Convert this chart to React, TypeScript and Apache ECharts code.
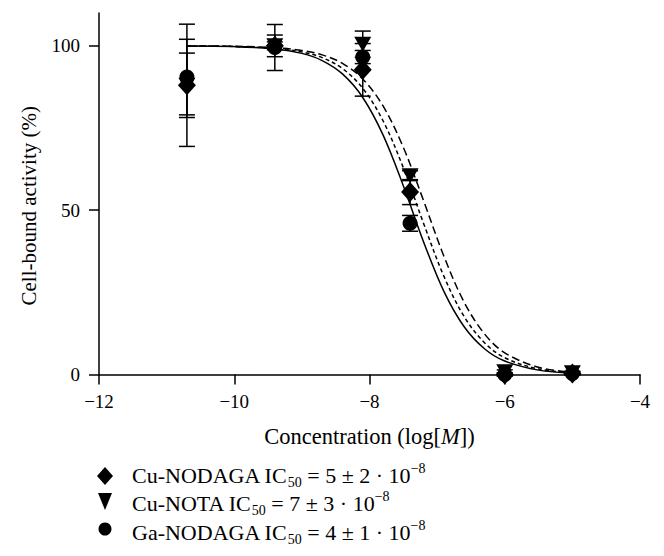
import React, { useEffect, useRef } from "react";
import * as echarts from "echarts";

// Measured points (log concentration, % cell-bound activity, error)
const concentrations = [-10.7, -9.4, -8.1, -7.4, -6.0, -5.0];
const cuNodagaMean = [88, 100, 92.7, 55.5, 0, 0.3];
const cuNodagaErr = [18.6, 3.3, 8, 3.8, 0.5, 0.5];
const cuNotaMean = [88, 100, 100.5, 60.5, 0.8, 0.5];
const cuNotaErr = [9.8, 1.2, 4, 1.5, 0.6, 0.5];
const gaNodagaMean = [90.5, 99.5, 96.6, 46, 0, 0.3];
const gaNodagaErr = [11.5, 7, 2, 2.4, 0.5, 0.5];

// Fitted curves
const fitX = [-10.7, -10, -9.4, -9, -8.7, -8.4, -8.1, -7.8, -7.5, -7.2, -6.9, -6.6, -6.3, -6, -5.5, -5];
const fitGaNodaga = [99.95, 99.77, 99.08, 97.71, 95.53, 91.46, 84.3, 72.91, 57.43, 40.34, 25.31, 14.52, 7.84, 4.09, 1.33, 0.42];
const fitCuNodaga = [99.96, 99.81, 99.26, 98.17, 96.42, 93.1, 87.12, 77.21, 62.94, 45.97, 29.9, 17.61, 9.68, 5.1, 1.67, 0.53];
const fitCuNota = [99.97, 99.86, 99.44, 98.61, 97.26, 94.68, 89.91, 81.71, 69.12, 52.87, 36.0, 21.99, 12.38, 6.61, 2.19, 0.7];

const xTickValues = [-12, -10, -8, -6, -4];
const yTickValues = [0, 50, 100];

const legendLabels = [
  "Cu-NODAGA IC{sub|50} = 5 ± 2 · 10{sup|\u22128}",
  "Cu-NOTA IC{sub|50} = 7 ± 3 · 10{sup|\u22128}",
  "Ga-NODAGA IC{sub|50} = 4 ± 1 · 10{sup|\u22128}",
];

const FONT = "'Liberation Serif', 'Times New Roman', serif";
const INK = "#000";

function pts(xs: number[], ys: number[]) {
  return xs.map((x, i) => [x, ys[i]]);
}
function errPts(xs: number[], ys: number[], es: number[]) {
  return xs.map((x, i) => [x, ys[i], es[i]]);
}

function errorSeries(name: string, data: number[][]) {
  return {
    type: "custom",
    name,
    z: 2,
    clip: false,
    data,
    encode: { x: 0, y: 1 },
    renderItem: (params: any, api: any) => {
      const x = api.value(0);
      const y = api.value(1);
      const e = api.value(2);
      const hi = api.coord([x, y + e]);
      const lo = api.coord([x, y - e]);
      const hw = 8;
      const st = { stroke: INK, lineWidth: 1.5 };
      return {
        type: "group",
        children: [
          { type: "line", shape: { x1: hi[0], y1: hi[1], x2: lo[0], y2: lo[1] }, style: st },
          { type: "line", shape: { x1: hi[0] - hw, y1: hi[1], x2: hi[0] + hw, y2: hi[1] }, style: st },
          { type: "line", shape: { x1: lo[0] - hw, y1: lo[1], x2: lo[0] + hw, y2: lo[1] }, style: st },
        ],
      };
    },
  };
}

function fitSeries(name: string, ys: number[], dash: any) {
  return {
    type: "line",
    name,
    z: 3,
    data: pts(fitX, ys),
    smooth: 0.35,
    symbol: "none",
    lineStyle: { color: INK, width: 1.5, type: dash },
  };
}

export default function App() {
  const ref = useRef<HTMLDivElement>(null);
  useEffect(() => {
    if (!ref.current) return;
    const chart = echarts.init(ref.current, undefined, { renderer: "svg" });
    const rich = {
      sub: { fontFamily: FONT, fontSize: 14, lineHeight: 12, verticalAlign: "bottom", fill: INK, color: INK },
      sup: { fontFamily: FONT, fontSize: 14, lineHeight: 12, verticalAlign: "top", fill: INK, color: INK },
    };
    const legendY = [475, 503.5, 532];
    const option: any = {
      animation: false,
      backgroundColor: "#fff",
      grid: { left: 99, right: 24, top: 13, bottom: 181.5, outerBoundsMode: "none", containLabel: false },
      xAxis: {
        type: "value",
        min: -12,
        max: -4,
        interval: 2,
        name: "Concentration (log[{i|M}])",
        nameLocation: "middle",
        nameGap: 50,
        nameTextStyle: {
          fontFamily: FONT,
          fontSize: 22.5,
          color: INK,
          rich: { i: { fontFamily: FONT, fontSize: 22.5, fontStyle: "italic", color: INK } },
        },
        axisLine: { show: true, onZero: false, lineStyle: { color: INK, width: 1.5 } },
        axisTick: { show: true, inside: false, length: 10, lineStyle: { color: INK, width: 1.5 }, customValues: xTickValues },
        axisLabel: {
          margin: 17,
          fontFamily: FONT,
          fontSize: 19,
          color: INK,
          customValues: xTickValues,
          formatter: (v: number) => (v < 0 ? "\u2212" + Math.abs(v) : String(v)),
        },
        splitLine: { show: false },
      },
      yAxis: {
        type: "value",
        min: 0,
        max: 110,
        interval: 50,
        name: "Cell-bound activity (%)",
        nameLocation: "middle",
        nameGap: 60,
        nameTextStyle: { fontFamily: FONT, fontSize: 21, color: INK, padding: [0, 24, 0, 0] },
        axisLine: { show: true, onZero: false, lineStyle: { color: INK, width: 1.5 } },
        axisTick: { show: true, inside: false, length: 10, lineStyle: { color: INK, width: 1.5 }, customValues: yTickValues },
        axisLabel: { margin: 19, fontFamily: FONT, fontSize: 19, color: INK, customValues: yTickValues },
        splitLine: { show: false },
      },
      series: [
        errorSeries("Cu-NOTA error", errPts(concentrations, cuNotaMean, cuNotaErr)),
        errorSeries("Ga-NODAGA error", errPts(concentrations, gaNodagaMean, gaNodagaErr)),
        errorSeries("Cu-NODAGA error", errPts(concentrations, cuNodagaMean, cuNodagaErr)),
        fitSeries("Ga-NODAGA fit", fitGaNodaga, "solid"),
        fitSeries("Cu-NODAGA fit", fitCuNodaga, [4, 3]),
        fitSeries("Cu-NOTA fit", fitCuNota, [8, 4]),
        {
          type: "scatter",
          name: "Cu-NOTA",
          z: 4,
          data: pts(concentrations, cuNotaMean),
          symbol: "triangle",
          symbolRotate: 180,
          symbolSize: [17, 15],
          itemStyle: { color: INK, opacity: 1 },
        },
        {
          type: "scatter",
          name: "Ga-NODAGA",
          z: 4,
          data: pts(concentrations, gaNodagaMean),
          symbol: "circle",
          symbolSize: 15,
          itemStyle: { color: INK, opacity: 1 },
        },
        {
          type: "scatter",
          name: "Cu-NODAGA",
          z: 4,
          data: pts(concentrations, cuNodagaMean),
          symbol: "diamond",
          symbolSize: [18, 20],
          itemStyle: { color: INK, opacity: 1 },
        },
      ],
      graphic: [
        { type: "polygon", shape: { points: [[105, 467], [113, 476], [105, 485], [97, 476]] }, style: { fill: INK } },
        { type: "polygon", shape: { points: [[98, 493], [112, 493], [105, 510]] }, style: { fill: INK } },
        { type: "circle", shape: { cx: 105, cy: 529, r: 6.5 }, style: { fill: INK } },
        ...legendLabels.map((t, i) => ({
          type: "text",
          x: 132,
          y: legendY[i],
          style: {
            text: t,
            rich,
            fontFamily: FONT,
            fontSize: 22,
            lineHeight: 28,
            fill: INK,
            verticalAlign: "middle",
            align: "left",
          },
        })),
      ],
    };
    chart.setOption(option);
    return () => chart.dispose();
  }, []);
  return (
    <div
      ref={ref}
      style={{ position: "fixed", left: 0, top: 0, width: 664, height: 556, background: "#fff" }}
    />
  );
}
